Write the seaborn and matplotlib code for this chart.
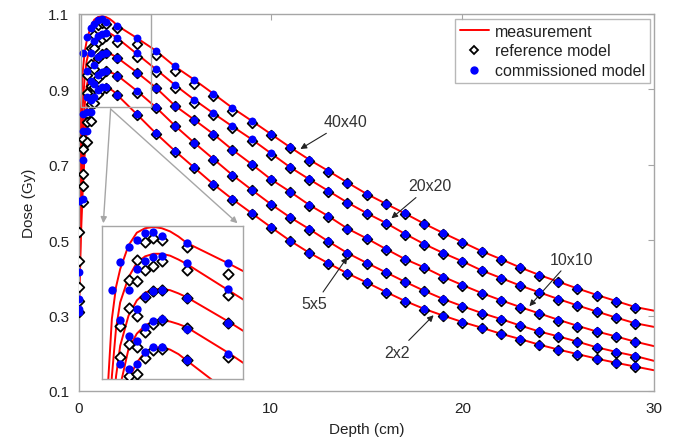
import matplotlib
matplotlib.use("Agg")
import matplotlib.pyplot as plt
import seaborn as sns
import pandas as pd
from matplotlib.lines import Line2D
from matplotlib.patches import Rectangle

# ---------------- data ----------------
fields = ["40x40", "20x20", "10x10", "5x5", "2x2"]

meas_depth = [0, 0.1, 0.2, 0.3, 0.4, 0.6, 0.8, 1.0, 1.2, 1.4, 1.6, 1.8] + list(range(2, 31))
pt_depth = [0, 0.2, 0.4, 0.6, 0.8, 1.0, 1.2, 1.4] + list(range(2, 30))

meas_40 = [0.52, 0.84, 0.95, 1.0, 1.028, 1.065, 1.085, 1.092, 1.094, 1.092, 1.087, 1.079,
           1.069, 1.037, 1.003, 0.961, 0.926, 0.889, 0.851, 0.817, 0.782, 0.747, 0.714, 0.684,
           0.653, 0.623, 0.597, 0.571, 0.544, 0.519, 0.495, 0.471, 0.450, 0.428, 0.408, 0.390,
           0.372, 0.355, 0.339, 0.323, 0.313]
meas_20 = [0.45, 0.72, 0.86, 0.935, 0.976, 1.015, 1.038, 1.048, 1.052, 1.052, 1.049, 1.043,
           1.036, 0.995, 0.954, 0.912, 0.873, 0.837, 0.802, 0.768, 0.731, 0.694, 0.662, 0.631,
           0.600, 0.572, 0.546, 0.517, 0.490, 0.466, 0.444, 0.420, 0.400, 0.380, 0.362, 0.344,
           0.327, 0.311, 0.295, 0.280, 0.270]
meas_10 = [0.38, 0.62, 0.77, 0.86, 0.908, 0.955, 0.979, 0.991, 0.996, 0.997, 0.995, 0.990,
           0.984, 0.946, 0.905, 0.857, 0.820, 0.782, 0.740, 0.702, 0.662, 0.629, 0.594, 0.564,
           0.531, 0.505, 0.477, 0.450, 0.428, 0.403, 0.381, 0.360, 0.341, 0.323, 0.306, 0.289,
           0.273, 0.258, 0.245, 0.231, 0.219]
meas_5 = [0.34, 0.56, 0.70, 0.79, 0.845, 0.903, 0.927, 0.940, 0.946, 0.948, 0.946, 0.942,
          0.937, 0.897, 0.853, 0.804, 0.759, 0.716, 0.673, 0.634, 0.596, 0.561, 0.530, 0.497,
          0.466, 0.440, 0.415, 0.390, 0.366, 0.344, 0.325, 0.307, 0.291, 0.274, 0.258, 0.245,
          0.231, 0.216, 0.204, 0.193, 0.180]
meas_2 = [0.31, 0.51, 0.64, 0.73, 0.79, 0.855, 0.882, 0.898, 0.905, 0.906, 0.902, 0.895,
          0.885, 0.835, 0.784, 0.737, 0.693, 0.649, 0.609, 0.572, 0.535, 0.499, 0.467, 0.439,
          0.412, 0.388, 0.363, 0.339, 0.318, 0.300, 0.283, 0.268, 0.252, 0.238, 0.223, 0.210,
          0.198, 0.186, 0.175, 0.165, 0.155]

com_40 = [0.604, 0.996, 1.039, 1.062, 1.074, 1.085, 1.086, 1.080,
          1.069, 1.037, 1.003, 0.961, 0.926, 0.889, 0.851, 0.817, 0.782, 0.747, 0.714, 0.684,
          0.653, 0.623, 0.597, 0.571, 0.544, 0.519, 0.495, 0.471, 0.450, 0.428, 0.408, 0.390,
          0.372, 0.355, 0.339, 0.323]
ref_40 = [0.522, 0.768, 0.939, 1.011, 1.043, 1.071, 1.076, 1.073,
          1.062, 1.020, 0.990, 0.950, 0.915, 0.882, 0.842, 0.810, 0.778, 0.744, 0.711, 0.681,
          0.651, 0.621, 0.595, 0.569, 0.542, 0.517, 0.493, 0.469, 0.448, 0.426, 0.406, 0.388,
          0.370, 0.353, 0.337, 0.321]
com_20 = [0.416, 0.835, 0.948, 0.996, 1.028, 1.041, 1.047, 1.049,
          1.037, 0.997, 0.954, 0.912, 0.873, 0.837, 0.802, 0.768, 0.731, 0.694, 0.662, 0.631,
          0.600, 0.572, 0.546, 0.517, 0.490, 0.466, 0.444, 0.420, 0.400, 0.380, 0.362, 0.344,
          0.327, 0.311, 0.295, 0.280]
ref_20 = [0.446, 0.742, 0.890, 0.967, 1.010, 1.027, 1.033, 1.041,
          1.026, 0.987, 0.946, 0.905, 0.865, 0.832, 0.797, 0.762, 0.727, 0.691, 0.660, 0.629,
          0.598, 0.570, 0.544, 0.515, 0.488, 0.464, 0.442, 0.418, 0.398, 0.378, 0.360, 0.342,
          0.325, 0.309, 0.293, 0.278]
com_10 = [0.344, 0.790, 0.880, 0.923, 0.965, 0.986, 0.994, 0.996,
          0.983, 0.944, 0.905, 0.857, 0.820, 0.782, 0.740, 0.702, 0.662, 0.629, 0.594, 0.564,
          0.531, 0.505, 0.477, 0.450, 0.428, 0.403, 0.381, 0.360, 0.341, 0.323, 0.306, 0.289,
          0.273, 0.258, 0.245, 0.231]
ref_10 = [0.376, 0.676, 0.835, 0.910, 0.955, 0.984, 0.994, 0.996,
          0.983, 0.944, 0.903, 0.855, 0.818, 0.780, 0.738, 0.700, 0.660, 0.627, 0.592, 0.562,
          0.529, 0.503, 0.475, 0.448, 0.426, 0.401, 0.379, 0.358, 0.339, 0.321, 0.304, 0.287,
          0.271, 0.256, 0.243, 0.229]
com_5 = [0.318, 0.712, 0.840, 0.872, 0.915, 0.937, 0.946, 0.950,
         0.935, 0.895, 0.853, 0.804, 0.759, 0.716, 0.673, 0.634, 0.596, 0.561, 0.530, 0.497,
         0.466, 0.440, 0.415, 0.390, 0.366, 0.344, 0.325, 0.307, 0.291, 0.274, 0.258, 0.245,
         0.231, 0.216, 0.204, 0.193]
ref_5 = [0.339, 0.645, 0.814, 0.861, 0.906, 0.929, 0.942, 0.948,
         0.936, 0.890, 0.851, 0.802, 0.757, 0.714, 0.671, 0.632, 0.594, 0.559, 0.528, 0.495,
         0.464, 0.438, 0.413, 0.388, 0.364, 0.342, 0.323, 0.305, 0.289, 0.272, 0.256, 0.243,
         0.229, 0.214, 0.202, 0.191]
com_2 = [0.310, 0.609, 0.790, 0.840, 0.879, 0.898, 0.906, 0.906,
         0.885, 0.835, 0.784, 0.737, 0.693, 0.649, 0.609, 0.572, 0.535, 0.499, 0.467, 0.439,
         0.412, 0.388, 0.363, 0.339, 0.318, 0.300, 0.283, 0.268, 0.252, 0.238, 0.223, 0.210,
         0.198, 0.186, 0.175, 0.165]
ref_2 = [0.310, 0.601, 0.760, 0.815, 0.864, 0.889, 0.901, 0.903,
         0.885, 0.833, 0.782, 0.735, 0.691, 0.647, 0.607, 0.570, 0.533, 0.497, 0.465, 0.437,
         0.410, 0.386, 0.361, 0.337, 0.316, 0.298, 0.281, 0.266, 0.250, 0.236, 0.221, 0.208,
         0.196, 0.184, 0.173, 0.163]

xticks = [0, 10, 20, 30]
yticks = [0.1, 0.3, 0.5, 0.7, 0.9, 1.1]

meas_all = [meas_40, meas_20, meas_10, meas_5, meas_2]
com_all = [com_40, com_20, com_10, com_5, com_2]
ref_all = [ref_40, ref_20, ref_10, ref_5, ref_2]

meas_df = pd.concat([pd.DataFrame({"depth": meas_depth, "dose": v, "field": f})
                     for f, v in zip(fields, meas_all)], ignore_index=True)
com_df = pd.concat([pd.DataFrame({"depth": pt_depth, "dose": v, "field": f})
                    for f, v in zip(fields, com_all)], ignore_index=True)
ref_df = pd.concat([pd.DataFrame({"depth": pt_depth, "dose": v, "field": f})
                    for f, v in zip(fields, ref_all)], ignore_index=True)

# ---------------- style ----------------
sns.set_style("white")
plt.rcParams["font.family"] = ["Liberation Sans", "DejaVu Sans"]
TXT = "#222222"
GRAY = "#a6a6a6"

fig = plt.figure(figsize=(6.75, 4.39), dpi=100)
ax = fig.add_axes([79 / 675, 1 - 392 / 439, 575 / 675, 377 / 439])


def draw(axis, msize_c=32, msize_d=24):
    for f in fields:
        sub = meas_df[meas_df.field == f]
        sns.lineplot(data=sub, x="depth", y="dose", color="#ff0000", lw=1.4,
                     sort=False, estimator=None, ax=axis, legend=False, zorder=2)
    sns.scatterplot(data=ref_df, x="depth", y="dose", marker="D", s=msize_d,
                    color="white", edgecolor="black", linewidth=1.3, ax=axis,
                    legend=False, zorder=3)
    sns.scatterplot(data=com_df, x="depth", y="dose", marker="o", s=msize_c,
                    color="#0000ff", edgecolor="#0000ff", linewidth=0, ax=axis,
                    legend=False, zorder=4)


draw(ax)
ax.set_xlim(0, 30)
ax.set_ylim(0.1, 1.1)
ax.set_xticks(xticks)
ax.set_yticks(yticks)
ax.set_xticklabels([str(t) for t in xticks])
ax.set_yticklabels([f"{t:.1f}" for t in yticks])
ax.tick_params(direction="in", length=4, top=True, right=True, color=GRAY,
               labelsize=11, labelcolor=TXT, pad=7)
for s in ax.spines.values():
    s.set_color(GRAY)
    s.set_linewidth(1.0)
ax.set_xlabel("Depth (cm)", fontsize=11, color=TXT, labelpad=5)
ax.set_ylabel("Dose (Gy)", fontsize=11, color=TXT, labelpad=9)

# zoom rectangle and connector arrows
ax.add_patch(Rectangle((0.09, 0.853), 3.69, 0.247, fill=False, edgecolor=GRAY,
                       lw=1.0, zorder=5))
for end in [(1.27, 0.545), (8.27, 0.545)]:
    ax.annotate("", xy=end, xytext=(1.65, 0.848),
                arrowprops=dict(arrowstyle="-|>", color=GRAY, lw=1.0,
                                mutation_scale=9, shrinkA=0, shrinkB=0))

# field size labels
labels = [("40x40", (13.9, 0.814), (11.55, 0.742)),
          ("20x20", (18.3, 0.644), (16.3, 0.558)),
          ("10x10", (25.7, 0.450), (23.5, 0.325)),
          ("5x5", (12.3, 0.331), (14.0, 0.455)),
          ("2x2", (16.6, 0.203), (18.5, 0.301))]
for txt, tpos, apos in labels:
    ax.annotate(txt, xy=apos, xytext=tpos, ha="center", va="center",
                fontsize=11.5, color="#333333",
                arrowprops=dict(arrowstyle="-|>", color="#222222", lw=0.8,
                                mutation_scale=9, shrinkA=1, shrinkB=0))

# legend
handles = [Line2D([], [], color="#ff0000", lw=1.4),
           Line2D([], [], ls="none", marker="D", markersize=4.5, markerfacecolor="white",
                  markeredgecolor="black", markeredgewidth=1.3),
           Line2D([], [], ls="none", marker="o", markersize=5, markerfacecolor="#0000ff",
                  markeredgecolor="#0000ff")]
leg = ax.legend(handles, ["measurement", "reference model", "commissioned model"],
                loc="upper right", bbox_to_anchor=(0.993, 0.987), fontsize=11.5,
                frameon=True, fancybox=False, edgecolor=GRAY, handlelength=1.8,
                handletextpad=0.4, borderpad=0.3, labelspacing=0.3, borderaxespad=0)
leg.get_frame().set_linewidth(1.0)
for t in leg.get_texts():
    t.set_color(TXT)

# inset
axins = fig.add_axes([102.3 / 675, 1 - 380 / 439, 141 / 675, 152.7 / 439])
axins.set_facecolor("white")
draw(axins, msize_c=36, msize_d=28)
axins.set_xlim(-0.03, 3.36)
axins.set_ylim(0.856, 1.095)
axins.set_xticks([])
axins.set_yticks([0.9])
axins.set_yticklabels([])
axins.tick_params(direction="in", length=4, color=GRAY)
axins.set_xlabel("")
axins.set_ylabel("")
for s in axins.spines.values():
    s.set_color(GRAY)
    s.set_linewidth(1.0)

fig.savefig("out.png", dpi=100)
